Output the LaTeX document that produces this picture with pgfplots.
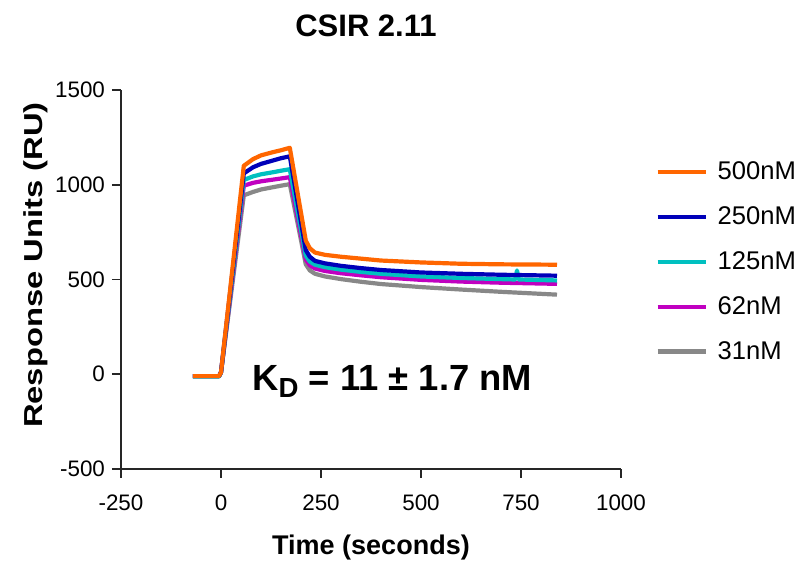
\documentclass[border=0pt]{standalone}
\usepackage{fontspec}
\setmainfont{Liberation Sans}
\usepackage{graphicx}
\usepackage{pgfplots}
\pgfplotsset{compat=1.18}
\definecolor{corange}{RGB}{255,102,0}
\definecolor{cblue}{RGB}{0,0,185}
\definecolor{ccyan}{RGB}{0,192,192}
\definecolor{cmag}{RGB}{192,0,192}
\definecolor{cgray}{RGB}{136,136,136}
\begin{document}
\begin{tikzpicture}
\begin{axis}[
  at={(0,0)}, anchor=south west,
  width=250pt, height=189.5pt, scale only axis,
  xmin=-250, xmax=1000, ymin=-500, ymax=1500,
  xtick={-250,0,250,500,750,1000},
  ytick={-500,0,500,1000,1500},
  axis x line*=bottom, axis y line*=left,
  tick align=outside, major tick length=4.5pt,
  axis line style={line width=0.9pt, black!85},
  every tick/.style={line width=0.9pt, black!85},
  /pgf/number format/assume math mode=true,
  /pgf/number format/1000 sep={},
  tick label style={font=\fontsize{11.2pt}{13pt}\selectfont},
  xticklabel style={yshift=-4.8pt},
  clip=false,
  reverse legend,
  legend image code/.code={\draw[#1] (0pt,0pt) -- (24pt,0pt);},
  legend style={draw=none, fill=none, at={(1.068,0.812)}, anchor=north west,
    inner sep=0pt, row sep=12pt, column sep=5pt,
    nodes={inner sep=0pt},
    font=\fontsize{12.8pt}{14pt}\selectfont},
  legend cell align=left,
  every axis plot/.append style={line width=2.1pt, line join=round, no markers},
]
% 31nM
\addplot[cgray] coordinates {(-70,-10)(-5,-10)(0,10)(57,944)(80,962)(100,975)(130,987)(150,995)(172,1003)(212,580)(222,548)(235,530)(260,516)(300,502)(350,488)(400,476)(500,460)(600,447)(700,435)(840,420)};
\addlegendentry{31nM}
% 62nM
\addplot[cmag] coordinates {(-70,-10)(-5,-10)(0,10)(57,995)(80,1010)(100,1018)(130,1027)(150,1033)(172,1040)(212,605)(222,575)(235,558)(260,545)(300,533)(350,522)(400,512)(500,498)(600,489)(700,483)(840,477)};
\addlegendentry{62nM}
% 125nM
\addplot[ccyan] coordinates {(-70,-12)(-5,-12)(0,8)(57,1025)(80,1044)(100,1055)(130,1066)(150,1074)(172,1082)(212,625)(222,595)(235,578)(260,565)(300,552)(350,540)(400,530)(500,516)(600,508)(700,502)(736,500)(740,548)(744,500)(840,495)};
\addlegendentry{125nM}
% 250nM
\addplot[cblue] coordinates {(-70,-10)(-5,-10)(0,10)(57,1060)(80,1092)(100,1110)(130,1128)(150,1140)(172,1150)(212,655)(222,620)(235,598)(260,585)(300,572)(350,560)(400,550)(500,537)(600,530)(700,525)(840,520)};
\addlegendentry{250nM}
% 500nM
\addplot[corange] coordinates {(-70,-10)(-5,-10)(0,10)(57,1100)(80,1135)(100,1155)(130,1172)(150,1182)(172,1195)(212,705)(222,665)(235,642)(260,630)(300,620)(350,610)(400,600)(500,590)(600,583)(700,580)(840,578)};
\addlegendentry{500nM}

\node[anchor=base, font=\bfseries\fontsize{15.5pt}{17pt}\selectfont, inner sep=0pt]
  at ([yshift=26.5pt]rel axis cs:0.49,1) {CSIR 2.11};
\node[anchor=base, font=\bfseries\fontsize{13.5pt}{15pt}\selectfont, inner sep=0pt]
  at ([yshift=-43pt]rel axis cs:0.5,0) {Time (seconds)};
\node[anchor=base, rotate=90, font=\bfseries\fontsize{13pt}{15pt}\selectfont, inner sep=0pt]
  at ([xshift=-39pt]rel axis cs:0,0.538) {\scalebox{1.26}[1]{Response Units (RU)}};
\node[anchor=base west, font=\bfseries\fontsize{18.2pt}{19pt}\selectfont, inner sep=0pt]
  at (rel axis cs:0.262,0.2084) {K\raisebox{-3.5pt}{\fontsize{13.8pt}{14pt}\selectfont D} = 11 ± 1.7 nM};
\end{axis}
\pgfresetboundingbox
\path[use as bounding box] (-60.5pt,-48pt) rectangle (341pt,234.5pt);
\end{tikzpicture}
\end{document}
